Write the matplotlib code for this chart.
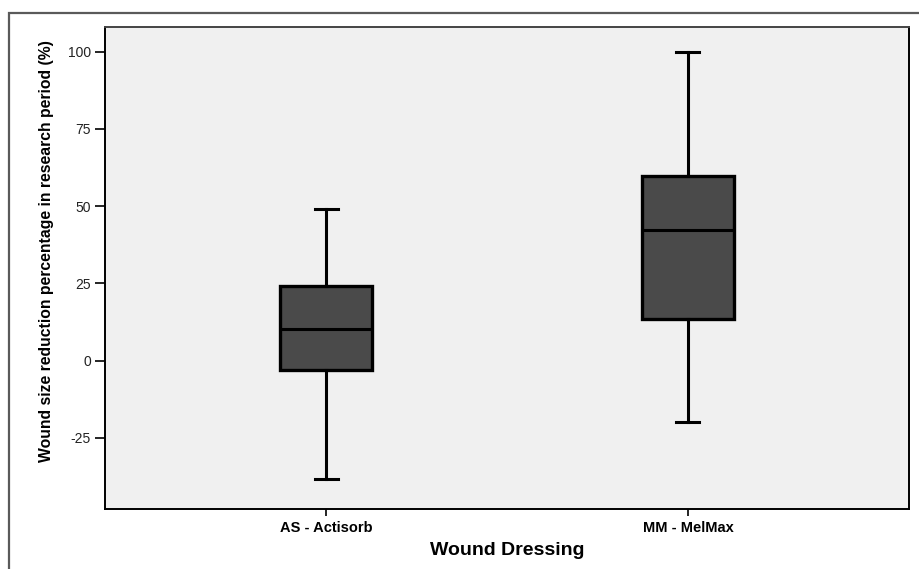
import matplotlib
matplotlib.use("Agg")
import matplotlib.pyplot as plt
from matplotlib.patches import Rectangle

plt.rcParams['font.family'] = ['Liberation Sans', 'DejaVu Sans']

# box summary stats
groups = ['AS - Actisorb', 'MM - MelMax']
whislo = [-38.3, -19.9]
q1 = [-3.0, 13.5]
med = [10.3, 42.2]
q3 = [24.2, 59.8]
whishi = [49.0, 100.0]
yticks = [-25, 0, 25, 50, 75, 100]

stats = []
for i in range(len(groups)):
    stats.append({'label': groups[i], 'whislo': whislo[i], 'q1': q1[i],
                  'med': med[i], 'q3': q3[i], 'whishi': whishi[i], 'fliers': []})

fig = plt.figure(figsize=(9.19, 5.69), dpi=100)
# outer frame around the whole chart
fig.patches.append(Rectangle((9 / 919, -0.2), 1.2, 1.2 - 12.7 / 569,
                             transform=fig.transFigure, fill=False,
                             edgecolor='#5a5a5a', linewidth=1.6))

ax = fig.add_axes([105 / 919, 60 / 569, 804 / 919, (509 - 26.7) / 569])
ax.set_facecolor('#f0f0f0')

ax.bxp(stats, positions=[1, 2], widths=0.252, patch_artist=True, showfliers=False,
       boxprops=dict(facecolor='#4a4a4a', edgecolor='black', linewidth=2.4),
       medianprops=dict(color='black', linewidth=2.2),
       whiskerprops=dict(color='black', linewidth=2.2),
       capprops=dict(color='black', linewidth=2.2), capwidths=0.064)

ax.set_xlim(0.389, 2.611)
ax.set_ylim(-48.0, 108.1)
ax.set_yticks(yticks)
ax.set_yticklabels([str(t) for t in yticks], fontsize=10, color='#222222')
ax.set_xticks([1, 2])
ax.set_xticklabels(groups, fontsize=10.5, fontweight='bold')
ax.tick_params(axis='y', direction='out', length=7, width=1.2, pad=3)
ax.tick_params(axis='x', direction='out', length=5, width=1.2, pad=4)

for s in ['left', 'bottom', 'right', 'top']:
    ax.spines[s].set_linewidth(1.4)
ax.spines['top'].set_color('#444444')
ax.spines['right'].set_color('black')

ax.set_xlabel('Wound Dressing', fontsize=14, fontweight='bold', labelpad=5)
ax.set_ylabel('Wound size reduction percentage in research period (%)',
              fontsize=11.3, fontweight='bold', labelpad=10)
ax.yaxis.label.set_y(0.535)

fig.savefig('out.png', dpi=100)
